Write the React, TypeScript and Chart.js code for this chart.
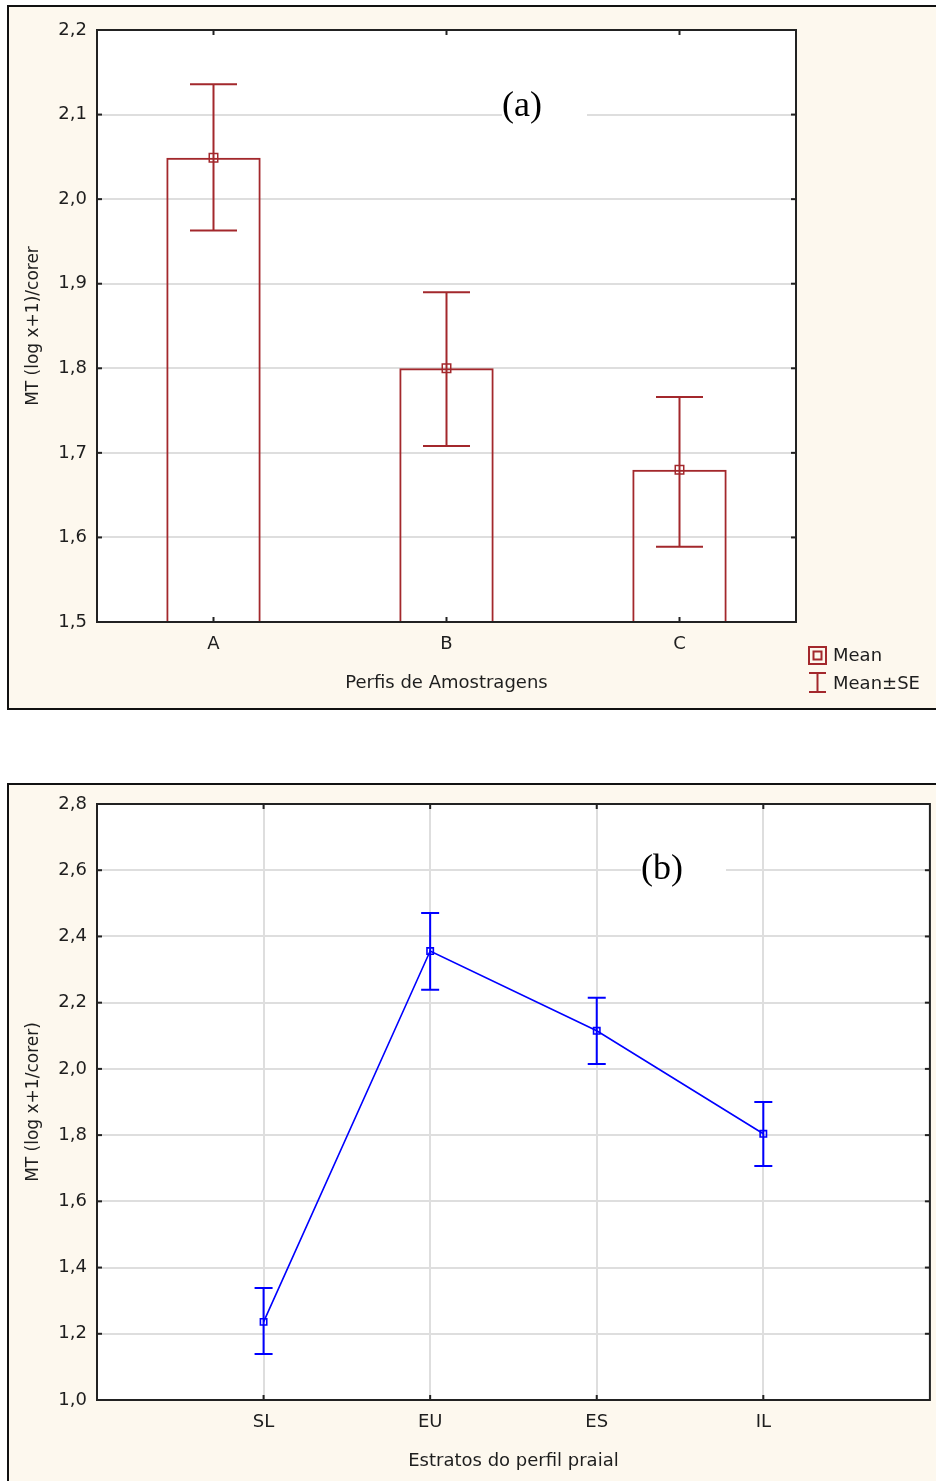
import React, { useEffect, useRef } from 'react';
import { Chart, registerables } from 'chart.js';

Chart.register(...registerables);

// ---- Panel (a) data ----
const profileLabels = ['A', 'B', 'C'];
const profileMeans = [2.049, 1.8, 1.68];
const profileSeUpper = [2.136, 1.89, 1.766];
const profileSeLower = [1.963, 1.708, 1.589];
const profileYMin = 1.5;
const profileYMax = 2.2;
const profileYStep = 0.1;

// ---- Panel (b) data ----
const strataLabels = ['SL', 'EU', 'ES', 'IL'];
const strataPositions = [1, 2, 3, 4];
const strataMeans = [1.236, 2.356, 2.115, 1.804];
const strataSeUpper = [1.338, 2.471, 2.215, 1.9];
const strataSeLower = [1.139, 2.239, 2.015, 1.707];
const strataYMin = 1.0;
const strataYMax = 2.8;
const strataYStep = 0.2;

const TEXT = '#1e1e1e';
const FONT = "'DejaVu Sans', sans-serif";
const RED = '#a3282c';
const BLUE = '#0000ff';
const GRID = '#dedede';

const fmt = (v: any) => Number(v).toFixed(1).replace('.', ',');

function framePlugin() {
  return {
    id: 'frameTicks',
    beforeDraw(chart: any) {
      const { ctx, chartArea: a } = chart;
      ctx.save();
      ctx.fillStyle = '#ffffff';
      ctx.fillRect(a.left, a.top, a.right - a.left, a.bottom - a.top);
      ctx.restore();
    },
    afterDraw(chart: any) {
      const { ctx, chartArea: a, scales } = chart;
      ctx.save();
      ctx.strokeStyle = '#222';
      ctx.lineWidth = 2;
      const L = 5;
      const seg = (x1: number, y1: number, x2: number, y2: number) => {
        ctx.beginPath();
        ctx.moveTo(x1, y1);
        ctx.lineTo(x2, y2);
        ctx.stroke();
      };
      const xs = scales.x;
      xs.ticks.forEach((_t: any, i: number) => {
        const p = xs.getPixelForTick(i);
        if (p <= a.left + 1 || p >= a.right - 1) return;
        seg(p, a.bottom, p, a.bottom - L);
        seg(p, a.top, p, a.top + L);
      });
      const ys = scales.y;
      ys.ticks.forEach((_t: any, i: number) => {
        const p = ys.getPixelForTick(i);
        if (p <= a.top + 1 || p >= a.bottom - 1) return;
        seg(a.left, p, a.left + L, p);
        seg(a.right, p, a.right - L, p);
      });
      ctx.strokeRect(a.left, a.top, a.right - a.left, a.bottom - a.top);
      ctx.restore();
    },
  };
}

function panelLabelPlugin(text: string, x: number, y: number, boxW: number) {
  return {
    id: 'panelLabel',
    beforeDatasetsDraw(chart: any) {
      const { ctx } = chart;
      ctx.save();
      ctx.fillStyle = '#ffffff';
      ctx.fillRect(x, y - 18, boxW, 36);
      ctx.fillStyle = '#000';
      ctx.font = "36px 'Liberation Serif', 'Times New Roman', serif";
      ctx.textAlign = 'left';
      ctx.textBaseline = 'middle';
      ctx.fillText(text, x, y + 1);
      ctx.restore();
    },
  };
}

function errorBarPlugin(
  xs: number[],
  upper: number[],
  lower: number[],
  color: string,
  capHalf: number
) {
  return {
    id: 'errorBars',
    afterDatasetsDraw(chart: any) {
      const { ctx, scales } = chart;
      ctx.save();
      ctx.strokeStyle = color;
      ctx.lineWidth = 2;
      xs.forEach((xv, i) => {
        const x = scales.x.getPixelForValue(xv);
        const yU = scales.y.getPixelForValue(upper[i]);
        const yL = scales.y.getPixelForValue(lower[i]);
        ctx.beginPath();
        ctx.moveTo(x, yU);
        ctx.lineTo(x, yL);
        ctx.moveTo(x - capHalf, yU);
        ctx.lineTo(x + capHalf, yU);
        ctx.moveTo(x - capHalf, yL);
        ctx.lineTo(x + capHalf, yL);
        ctx.stroke();
      });
      ctx.restore();
    },
  };
}

const legendPlugin = {
  id: 'customLegend',
  afterDraw(chart: any) {
    const { ctx } = chart;
    ctx.save();
    ctx.strokeStyle = RED;
    ctx.lineWidth = 2;
    ctx.strokeRect(809, 647, 17, 17);
    ctx.strokeRect(813.5, 651.5, 8, 8);
    ctx.beginPath();
    ctx.moveTo(817.5, 673);
    ctx.lineTo(817.5, 692);
    ctx.moveTo(809, 673);
    ctx.lineTo(826, 673);
    ctx.moveTo(809, 692);
    ctx.lineTo(826, 692);
    ctx.stroke();
    ctx.fillStyle = TEXT;
    ctx.font = `18px ${FONT}`;
    ctx.textAlign = 'left';
    ctx.textBaseline = 'middle';
    ctx.fillText('Mean', 833, 656);
    ctx.fillText('Mean±SE', 833, 684);
    ctx.restore();
  },
};

const noScalePadding = (s: any) => {
  s.paddingLeft = 0;
  s.paddingRight = 0;
};

function ChartA() {
  const ref = useRef<HTMLCanvasElement | null>(null);
  useEffect(() => {
    const canvas = ref.current!;
    const yTicks: number[] = [];
    for (let v = profileYMin; v <= profileYMax + 1e-9; v += profileYStep) yTicks.push(Number(v.toFixed(2)));
    const chart = new Chart(canvas, {
      type: 'bar',
      data: {
        labels: profileLabels,
        datasets: [
          {
            type: 'line',
            data: profileMeans,
            showLine: false,
            pointStyle: 'rect',
            pointRadius: 6,
            pointBorderWidth: 1.5,
            pointBorderColor: RED,
            pointBackgroundColor: 'rgba(0,0,0,0)',
            borderColor: RED,
            order: 0,
          } as any,
          {
            type: 'bar',
            data: profileMeans,
            backgroundColor: 'rgba(255,255,255,0)',
            borderColor: RED,
            borderWidth: 2,
            categoryPercentage: 1,
            barPercentage: 0.405,
            order: 1,
          } as any,
        ],
      },
      options: {
        animation: false,
        responsive: false,
        devicePixelRatio: 1,
        layout: { padding: { left: 17, top: 30, right: 140, bottom: 28 } },
        plugins: { legend: { display: false }, tooltip: { enabled: false } },
        scales: {
          x: {
            type: 'category',
            offset: true,
            grid: { display: false, drawTicks: false },
            border: { display: false },
            ticks: { color: TEXT, font: { family: FONT, size: 18 }, padding: 12 },
            title: {
              display: true,
              text: 'Perfis de Amostragens',
              color: TEXT,
              font: { family: FONT, size: 18 },
              padding: { top: 0, bottom: 18 },
            },
            afterFit: (s: any) => {
              s.height = 90;
              noScalePadding(s);
            },
          },
          y: {
            type: 'linear',
            min: profileYMin,
            max: profileYMax,
            afterBuildTicks: (s: any) => {
              s.ticks = yTicks.map((v) => ({ value: v }));
            },
            grid: { color: GRID, lineWidth: 2, drawTicks: false },
            border: { display: false },
            ticks: { color: TEXT, font: { family: FONT, size: 18 }, padding: 10, callback: fmt },
            title: {
              display: true,
              text: 'MT (log x+1)/corer',
              color: TEXT,
              font: { family: FONT, size: 17 },
              padding: { top: 6, bottom: 0 },
            },
            afterFit: (s: any) => {
              s.width = 80;
            },
          },
        },
      },
      plugins: [
        framePlugin(),
        panelLabelPlugin('(a)', 502, 106, 85),
        errorBarPlugin([0, 1, 2], profileSeUpper, profileSeLower, RED, 23.5),
        legendPlugin,
      ],
    } as any);
    return () => chart.destroy();
  }, []);
  return (
    <canvas
      ref={ref}
      width={936}
      height={740}
      style={{ position: 'absolute', left: 0, top: 0, width: 936, height: 740 }}
    />
  );
}

function ChartB() {
  const ref = useRef<HTMLCanvasElement | null>(null);
  useEffect(() => {
    const canvas = ref.current!;
    const chart = new Chart(canvas, {
      type: 'scatter',
      data: {
        datasets: [
          {
            data: strataPositions.map((x, i) => ({ x, y: strataMeans[i] })),
            showLine: true,
            borderColor: BLUE,
            borderWidth: 1.6,
            pointStyle: 'rect',
            pointRadius: 4.5,
            pointBorderWidth: 1.6,
            pointBorderColor: BLUE,
            pointBackgroundColor: 'rgba(0,0,0,0)',
          } as any,
        ],
      },
      options: {
        animation: false,
        responsive: false,
        devicePixelRatio: 1,
        layout: { padding: { left: 17, top: 44, right: 4, bottom: 6 } },
        plugins: { legend: { display: false }, tooltip: { enabled: false } },
        scales: {
          x: {
            type: 'linear',
            min: 0,
            max: strataPositions.length + 1,
            ticks: {
              stepSize: 1,
              color: TEXT,
              font: { family: FONT, size: 18 },
              padding: 12,
              callback: (v: any) => {
                const idx = strataPositions.indexOf(Number(v));
                return idx >= 0 ? strataLabels[idx] : '';
              },
            },
            grid: { color: GRID, lineWidth: 2, drawTicks: false },
            border: { display: false },
            title: {
              display: true,
              text: 'Estratos do perfil praial',
              color: TEXT,
              font: { family: FONT, size: 18 },
              padding: { top: 0, bottom: 3 },
            },
            afterFit: (s: any) => {
              s.height = 75;
              noScalePadding(s);
            },
          },
          y: {
            type: 'linear',
            min: strataYMin,
            max: strataYMax,
            ticks: { stepSize: strataYStep, color: TEXT, font: { family: FONT, size: 18 }, padding: 10, callback: fmt },
            grid: { color: GRID, lineWidth: 2, drawTicks: false },
            border: { display: false },
            title: {
              display: true,
              text: 'MT (log x+1/corer)',
              color: TEXT,
              font: { family: FONT, size: 17 },
              padding: { top: 6, bottom: 0 },
            },
            afterFit: (s: any) => {
              s.width = 80;
            },
          },
        },
      },
      plugins: [
        framePlugin(),
        panelLabelPlugin('(b)', 641, 109, 85),
        errorBarPlugin(strataPositions, strataSeUpper, strataSeLower, BLUE, 9),
      ],
    } as any);
    return () => chart.destroy();
  }, []);
  return (
    <canvas
      ref={ref}
      width={936}
      height={721}
      style={{ position: 'absolute', left: 0, top: 760, width: 936, height: 721 }}
    />
  );
}

export default function App() {
  return (
    <div
      style={{
        position: 'absolute',
        left: 0,
        top: 0,
        width: 936,
        height: 1481,
        overflow: 'hidden',
        background: '#ffffff',
      }}
    >
      <div
        style={{
          position: 'absolute',
          left: 7,
          top: 5,
          width: 935,
          height: 705,
          boxSizing: 'border-box',
          border: '2px solid #111',
          background: '#fdf8ee',
        }}
      />
      <div
        style={{
          position: 'absolute',
          left: 7,
          top: 783,
          width: 935,
          height: 710,
          boxSizing: 'border-box',
          border: '2px solid #111',
          background: '#fdf8ee',
        }}
      />
      <ChartA />
      <ChartB />
    </div>
  );
}
